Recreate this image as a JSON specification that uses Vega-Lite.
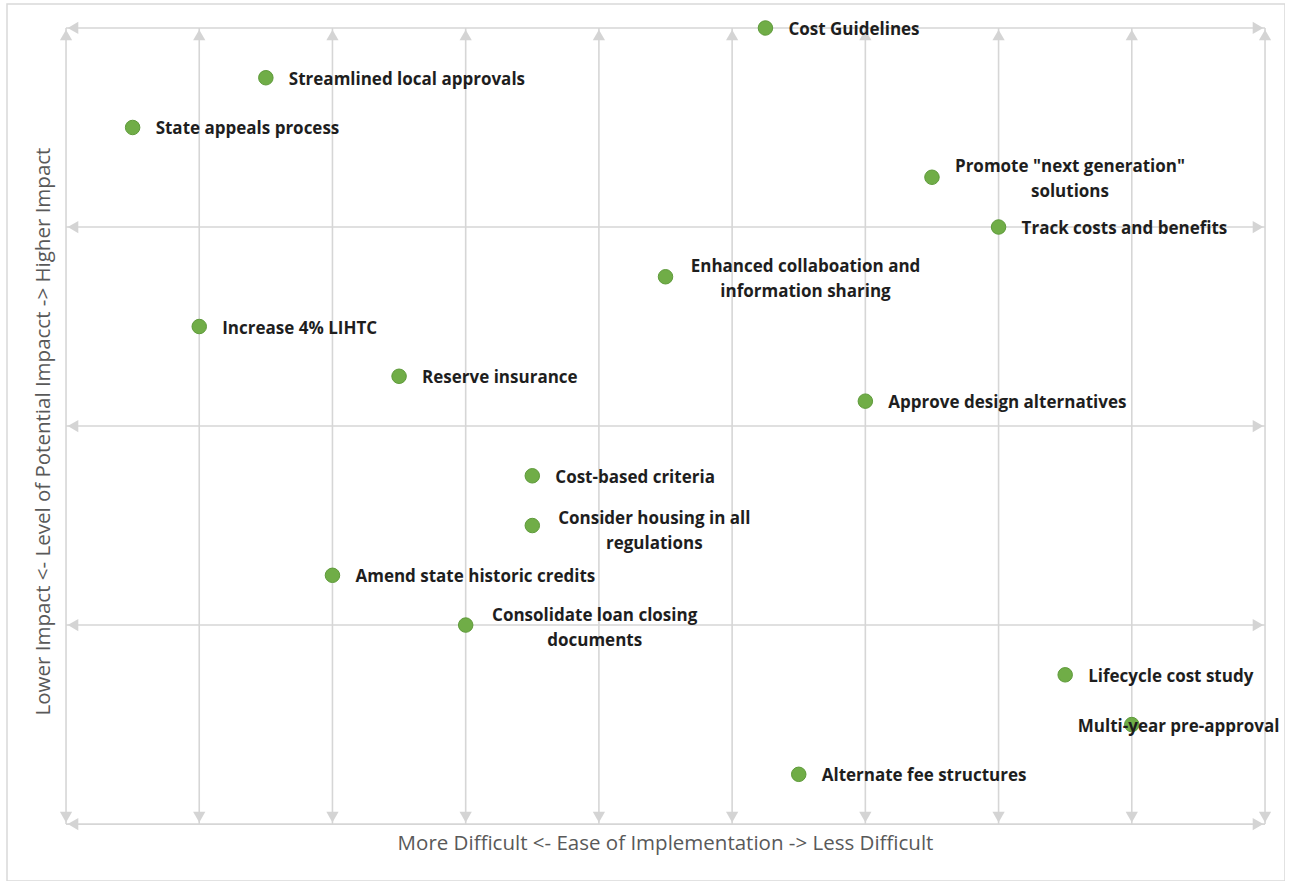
{
  "$schema": "https://vega.github.io/schema/vega-lite/v6.json",
  "width": 1278,
  "height": 877,
  "autosize": {"type": "none"},
  "padding": {"left": 7, "top": 4, "right": 0, "bottom": 0},
  "background": "white",
  "datasets": {
    "pts": [
      {"label": "Cost Guidelines", "ease": 5.25, "impact": 4},
      {"label": "Streamlined local approvals", "ease": 1.5, "impact": 3.75},
      {"label": "State appeals process", "ease": 0.5, "impact": 3.5},
      {"label": "Promote \"next generation\"\nsolutions", "ease": 6.5, "impact": 3.25},
      {"label": "Track costs and benefits", "ease": 7, "impact": 3},
      {"label": "Enhanced collaboation and\ninformation sharing", "ease": 4.5, "impact": 2.75},
      {"label": "Increase 4% LIHTC", "ease": 1, "impact": 2.5},
      {"label": "Reserve insurance", "ease": 2.5, "impact": 2.25},
      {"label": "Approve design alternatives", "ease": 6, "impact": 2.125},
      {"label": "Cost-based criteria", "ease": 3.5, "impact": 1.75},
      {"label": "Consider housing in all\nregulations", "ease": 3.5, "impact": 1.5},
      {"label": "Amend state historic credits", "ease": 2, "impact": 1.25},
      {"label": "Consolidate loan closing\ndocuments", "ease": 3, "impact": 1},
      {"label": "Lifecycle cost study", "ease": 7.5, "impact": 0.75},
      {"label": "Multi-year pre-approval", "ease": 8, "impact": 0.5},
      {"label": "Alternate fee structures", "ease": 5.5, "impact": 0.25}
    ],
    "vx": [{"gx": 0}, {"gx": 1}, {"gx": 2}, {"gx": 3}, {"gx": 4}, {"gx": 5}, {"gx": 6}, {"gx": 7}, {"gx": 8}, {"gx": 9}],
    "hy": [{"gy": 0}, {"gy": 1}, {"gy": 2}, {"gy": 3}, {"gy": 4}]
  },
  "config": {
    "view": {"stroke": "#d9d9d9", "strokeWidth": 1.5},
    "font": "Open Sans",
    "axis": {
      "domain": false, "ticks": false, "labels": false, "grid": false,
      "titleFont": "Open Sans", "titleFontSize": 20.5, "titleFontWeight": "normal",
      "titleColor": "#595959", "titleAlign": "center", "titleBaseline": "middle"
    },
    "axisX": {"titleX": 658, "titleY": -38},
    "axisY": {"titleX": 36, "titleY": 427, "titleAngle": -90},
    "text": {"font": "Open Sans", "fontSize": 17, "fontWeight": "bold", "color": "#1e1e1e", "baseline": "middle", "dy": 2}
  },
  "layer": [
    {
      "data": {"name": "vx"},
      "mark": {"type": "rule", "color": "#d6d6d6", "strokeWidth": 1.6},
      "encoding": {
        "x": {"field": "gx", "type": "quantitative", "scale": {"domain": [-0.443, 9.15], "nice": false, "zero": false}, "title": "More Difficult <- Ease of Implementation  -> Less Difficult"},
        "y": {"datum": 0, "type": "quantitative", "scale": {"domain": [-0.286, 4.1205], "nice": false, "zero": false}, "title": "Lower Impact <- Level of Potential Impacct -> Higher Impact"},
        "y2": {"datum": 4}
      }
    },
    {
      "data": {"name": "hy"},
      "mark": {"type": "rule", "color": "#d6d6d6", "strokeWidth": 1.6},
      "encoding": {
        "y": {"field": "gy", "type": "quantitative", "title": "Lower Impact <- Level of Potential Impacct -> Higher Impact"},
        "x": {"datum": 0, "type": "quantitative", "title": "More Difficult <- Ease of Implementation  -> Less Difficult"},
        "x2": {"datum": 9}
      }
    },
    {
      "data": {"name": "vx"},
      "mark": {"type": "point", "shape": "triangle-up", "filled": true, "size": 150, "color": "#d4d4d4", "opacity": 1, "yOffset": 7},
      "encoding": {
        "x": {"field": "gx", "type": "quantitative", "title": "More Difficult <- Ease of Implementation  -> Less Difficult"},
        "y": {"datum": 4, "type": "quantitative", "title": "Lower Impact <- Level of Potential Impacct -> Higher Impact"}
      }
    },
    {
      "data": {"name": "vx"},
      "mark": {"type": "point", "shape": "triangle-down", "filled": true, "size": 150, "color": "#d4d4d4", "opacity": 1, "yOffset": -7},
      "encoding": {
        "x": {"field": "gx", "type": "quantitative", "title": "More Difficult <- Ease of Implementation  -> Less Difficult"},
        "y": {"datum": 0, "type": "quantitative", "title": "Lower Impact <- Level of Potential Impacct -> Higher Impact"}
      }
    },
    {
      "data": {"name": "hy"},
      "mark": {"type": "point", "shape": "triangle-left", "filled": true, "size": 150, "color": "#d4d4d4", "opacity": 1, "xOffset": 7},
      "encoding": {
        "y": {"field": "gy", "type": "quantitative", "title": "Lower Impact <- Level of Potential Impacct -> Higher Impact"},
        "x": {"datum": 0, "type": "quantitative", "title": "More Difficult <- Ease of Implementation  -> Less Difficult"}
      }
    },
    {
      "data": {"name": "hy"},
      "mark": {"type": "point", "shape": "triangle-right", "filled": true, "size": 150, "color": "#d4d4d4", "opacity": 1, "xOffset": -7},
      "encoding": {
        "y": {"field": "gy", "type": "quantitative", "title": "Lower Impact <- Level of Potential Impacct -> Higher Impact"},
        "x": {"datum": 9, "type": "quantitative", "title": "More Difficult <- Ease of Implementation  -> Less Difficult"}
      }
    },
    {
      "data": {"name": "pts"},
      "mark": {"type": "point", "filled": true, "size": 210, "color": "#70ad47", "stroke": "#5e9a3a", "strokeWidth": 1, "opacity": 1},
      "encoding": {
        "x": {"field": "ease", "type": "quantitative", "title": "More Difficult <- Ease of Implementation  -> Less Difficult"},
        "y": {"field": "impact", "type": "quantitative", "title": "Lower Impact <- Level of Potential Impacct -> Higher Impact"}
      }
    },
    {
      "data": {"name": "pts"},
      "transform": [{"filter": "indexof(datum.label, '\\n') < 0 && datum.label != 'Multi-year pre-approval'"}],
      "mark": {"type": "text", "align": "left", "dx": 23},
      "encoding": {
        "x": {"field": "ease", "type": "quantitative", "title": "More Difficult <- Ease of Implementation  -> Less Difficult"},
        "y": {"field": "impact", "type": "quantitative", "title": "Lower Impact <- Level of Potential Impacct -> Higher Impact"},
        "text": {"field": "label"}
      }
    },
    {
      "data": {"name": "pts"},
      "transform": [{"filter": "datum.label == 'Multi-year pre-approval'"}],
      "mark": {"type": "text", "align": "left", "dx": -54},
      "encoding": {
        "x": {"field": "ease", "type": "quantitative", "title": "More Difficult <- Ease of Implementation  -> Less Difficult"},
        "y": {"field": "impact", "type": "quantitative", "title": "Lower Impact <- Level of Potential Impacct -> Higher Impact"},
        "text": {"field": "label"}
      }
    },
    {
      "data": {"name": "pts"},
      "transform": [{"filter": "indexof(datum.label, 'Promote') == 0"}],
      "mark": {"type": "text", "align": "center", "dx": 138, "dy": -10, "lineBreak": "\n", "lineHeight": 25},
      "encoding": {
        "x": {"field": "ease", "type": "quantitative", "title": "More Difficult <- Ease of Implementation  -> Less Difficult"},
        "y": {"field": "impact", "type": "quantitative", "title": "Lower Impact <- Level of Potential Impacct -> Higher Impact"},
        "text": {"field": "label"}
      }
    },
    {
      "data": {"name": "pts"},
      "transform": [{"filter": "indexof(datum.label, 'Enhanced') == 0"}],
      "mark": {"type": "text", "align": "center", "dx": 140, "dy": -10, "lineBreak": "\n", "lineHeight": 25},
      "encoding": {
        "x": {"field": "ease", "type": "quantitative", "title": "More Difficult <- Ease of Implementation  -> Less Difficult"},
        "y": {"field": "impact", "type": "quantitative", "title": "Lower Impact <- Level of Potential Impacct -> Higher Impact"},
        "text": {"field": "label"}
      }
    },
    {
      "data": {"name": "pts"},
      "transform": [{"filter": "indexof(datum.label, 'Consider') == 0"}],
      "mark": {"type": "text", "align": "center", "dx": 122, "dy": -7, "lineBreak": "\n", "lineHeight": 25},
      "encoding": {
        "x": {"field": "ease", "type": "quantitative", "title": "More Difficult <- Ease of Implementation  -> Less Difficult"},
        "y": {"field": "impact", "type": "quantitative", "title": "Lower Impact <- Level of Potential Impacct -> Higher Impact"},
        "text": {"field": "label"}
      }
    },
    {
      "data": {"name": "pts"},
      "transform": [{"filter": "indexof(datum.label, 'Consolidate') == 0"}],
      "mark": {"type": "text", "align": "center", "dx": 129, "dy": -9, "lineBreak": "\n", "lineHeight": 25},
      "encoding": {
        "x": {"field": "ease", "type": "quantitative", "title": "More Difficult <- Ease of Implementation  -> Less Difficult"},
        "y": {"field": "impact", "type": "quantitative", "title": "Lower Impact <- Level of Potential Impacct -> Higher Impact"},
        "text": {"field": "label"}
      }
    }
  ]
}
